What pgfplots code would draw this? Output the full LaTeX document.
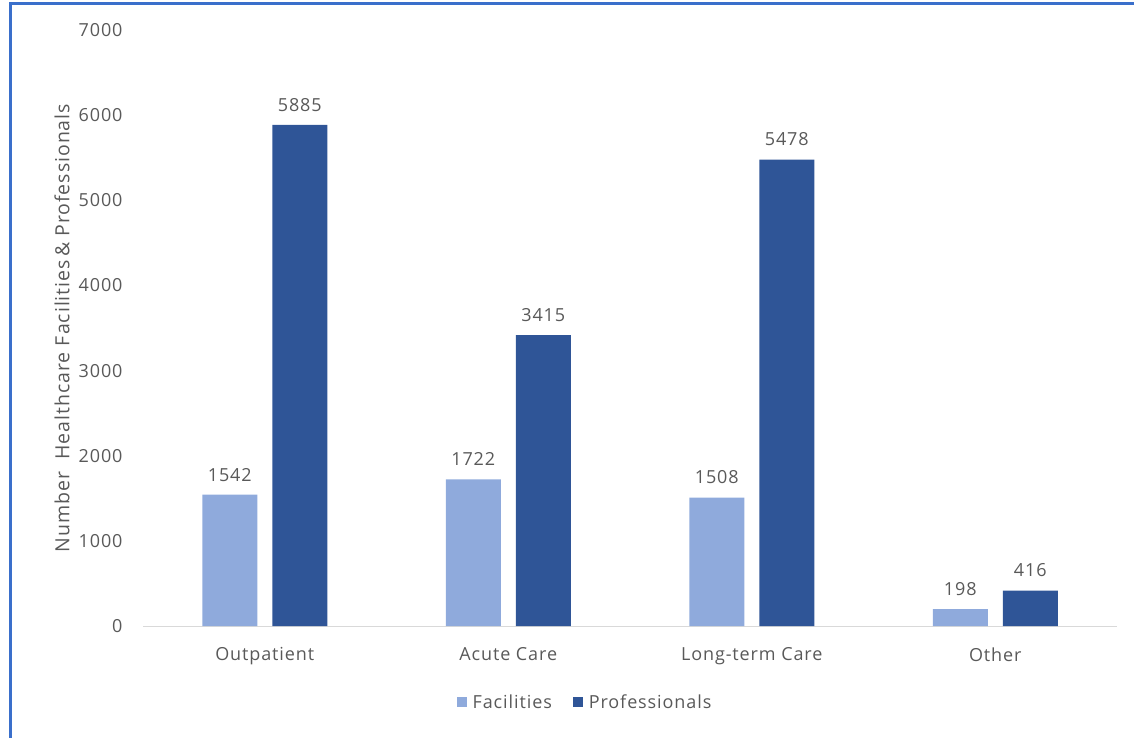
\documentclass[border=0pt]{standalone}
\usepackage{fontspec}
\setmainfont[LetterSpace=5]{Open Sans}
\usepackage{pgfplots}
\pgfplotsset{compat=1.18}
\definecolor{fac}{HTML}{8FAADC}
\definecolor{pro}{HTML}{2F5597}
\definecolor{txt}{HTML}{595959}
\definecolor{axl}{HTML}{D9D9D9}
\definecolor{brd}{HTML}{3A6FCB}
\newcommand{\cf}{\fontsize{18bp}{21bp}\selectfont}
\begin{document}
\begin{tikzpicture}
\path[use as bounding box] (0,0) rectangle (1134bp,738bp);
\draw[brd, line width=2.2bp] (10.5bp,0bp) -- (10.5bp,734.5bp) -- (1134bp,734.5bp);
\begin{axis}[
  at={(143bp,112bp)}, anchor=south west,
  scale only axis, width=974bp, height=596bp,
  ybar, 
  xmin=-0.5, xmax=3.5, ymin=0, ymax=7000,
  xtick={0,1,2,3},
  xticklabels={Outpatient, Acute Care, Long-term Care, Other},
  ytick={0,1000,...,7000},
  axis x line=bottom, axis y line=left,
  x axis line style={draw=axl, line width=1bp, -},
  y axis line style={draw=none},
  major tick length=0pt,
  /pgf/number format/assume math mode=true,
  /pgf/number format/1000 sep={},
  ticklabel style={font=\cf, text=txt},
  yticklabel style={xshift=-17bp},
  xticklabel style={yshift=-18bp},
  ylabel={Number\ \ Healthcare Facilities\,\& Professionals},
  every axis y label/.style={at={(axis description cs:-0.0832,0.5)}, rotate=90, anchor=center, font=\fontsize{19.5bp}{22bp}\selectfont, text=txt},
  nodes near coords,
  every node near coord/.append style={font=\cf, text=txt, yshift=10bp},
  legend style={at={(axis description cs:0.4538,-0.1275)}, anchor=center, draw=none, fill=none,
    legend columns=2, font=\cf, text=txt,
    /tikz/every even column/.append style={column sep=19bp}},
  legend image code/.code={\fill[#1,draw=none] (0bp,-5bp) rectangle (10bp,5bp); \path (14bp,0bp);},
  clip=false,
]
\addplot[fill=fac, draw=none, bar width=55bp, bar shift=-35bp] coordinates {(0,1542) (1,1722) (2,1508) (3,198)};
\addplot[fill=pro, draw=none, bar width=55bp, bar shift=35bp] coordinates {(0,5885) (1,3415) (2,5478) (3,416)};
\legend{Facilities, Professionals}
\end{axis}
\end{tikzpicture}
\end{document}
